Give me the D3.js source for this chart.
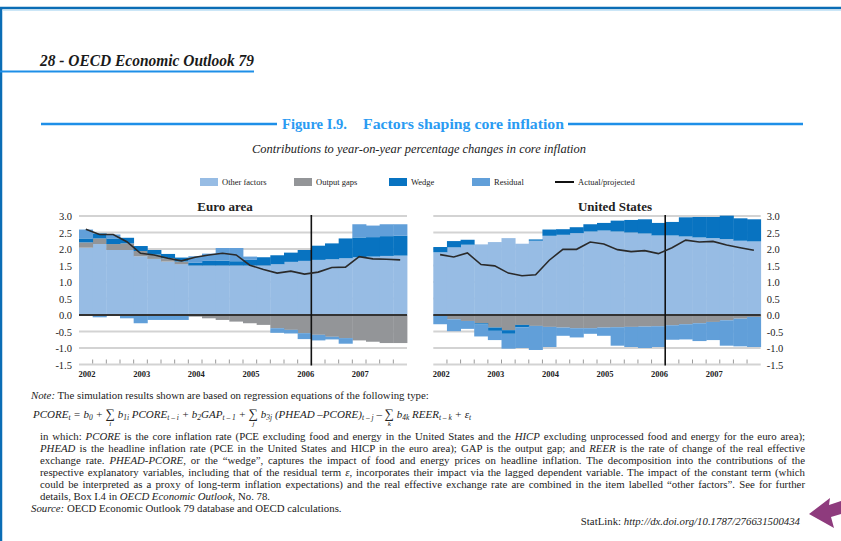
<!DOCTYPE html>
<html>
<head>
<meta charset="utf-8">
<script src="https://cdn.jsdelivr.net/npm/d3@7"></script>
<style>
  body { margin: 0; background: #fff; }
  svg { display: block; }
  text { font-family: "Liberation Serif", "Times New Roman", serif; }
</style>
</head>
<body>
<div id="chart"></div>
<script>
const W = 841, H = 541;

// categories
const quarters = [
  "2002Q1","2002Q2","2002Q3","2002Q4","2003Q1","2003Q2","2003Q3","2003Q4",
  "2004Q1","2004Q2","2004Q3","2004Q4","2005Q1","2005Q2","2005Q3","2005Q4",
  "2006Q1","2006Q2","2006Q3","2006Q4","2007Q1","2007Q2","2007Q3","2007Q4"
];
const yearLabels = ["2002","2003","2004","2005","2006","2007"];
const yTicks = [-1.5, -1.0, -0.5, 0.0, 0.5, 1.0, 1.5, 2.0, 2.5, 3.0];
const projectionStart = "2006Q2";

const seriesKeys = ["other", "gap", "wedge", "residual"];
const seriesNames = ["Other factors", "Output gaps", "Wedge", "Residual"];
const lineName = "Actual/projected";

// euro area contributions (% points)
const euroOther    = [2.04, 2.15, 1.97, 1.97, 1.78, 1.70, 1.62, 1.54, 1.50, 1.50, 1.50, 1.50, 1.50, 1.50, 1.54, 1.61, 1.64, 1.67, 1.69, 1.72, 1.75, 1.77, 1.79, 1.80];
const euroGap      = [0.16, 0.17, 0.18, 0.20, 0.16, 0.13, 0.10, 0.08, -0.05, -0.10, -0.15, -0.20, -0.25, -0.30, -0.40, -0.45, -0.55, -0.60, -0.66, -0.70, -0.77, -0.81, -0.85, -0.85];
const euroWedge    = [0.12, 0.15, 0.17, 0.17, 0.15, 0.14, 0.13, 0.12, 0.08, 0.14, 0.15, 0.13, 0.17, 0.25, 0.27, 0.28, 0.33, 0.43, 0.48, 0.60, 0.60, 0.59, 0.60, 0.60];
const euroResidual = [0.27, -0.07, 0.12, -0.10, -0.25, -0.15, -0.15, -0.15, 0.20, 0.22, 0.38, 0.40, 0.10, 0.00, -0.14, -0.11, -0.18, -0.17, -0.08, -0.17, 0.40, 0.35, 0.36, 0.35];
const euroActual   = [2.60, 2.44, 2.44, 2.22, 1.87, 1.82, 1.72, 1.64, 1.75, 1.82, 1.87, 1.82, 1.51, 1.38, 1.27, 1.33, 1.24, 1.30, 1.44, 1.45, 1.77, 1.70, 1.69, 1.67];

// united states contributions (% points)
const usOther    = [1.90, 2.05, 2.13, 2.14, 2.21, 2.33, 2.16, 2.25, 2.40, 2.43, 2.48, 2.53, 2.56, 2.53, 2.50, 2.47, 2.41, 2.41, 2.38, 2.35, 2.33, 2.30, 2.25, 2.23];
const usGap      = [-0.03, -0.13, -0.18, -0.25, -0.38, -0.46, -0.30, -0.33, -0.36, -0.38, -0.40, -0.40, -0.38, -0.37, -0.36, -0.35, -0.34, -0.31, -0.28, -0.25, -0.21, -0.16, -0.11, -0.06];
const usWedge    = [0.16, 0.19, 0.15, -0.04, -0.10, -0.11, -0.07, 0.04, 0.19, 0.17, 0.18, 0.22, 0.23, 0.33, 0.38, 0.43, 0.38, 0.41, 0.58, 0.62, 0.64, 0.71, 0.68, 0.67];
const usResidual = [-0.25, -0.36, -0.24, -0.36, -0.28, -0.45, -0.63, -0.73, -0.61, -0.25, -0.28, -0.17, -0.25, -0.56, -0.61, -0.65, -0.63, -0.44, -0.46, -0.54, -0.55, -0.77, -0.84, -0.91];
const usActual   = [1.83, 1.76, 1.88, 1.53, 1.49, 1.27, 1.19, 1.22, 1.66, 1.99, 1.99, 2.21, 2.15, 1.98, 1.92, 1.95, 1.86, 2.04, 2.27, 2.21, 2.23, 2.12, 2.04, 1.96];

const colors = { other: "#97bce4", gap: "#939598", wedge: "#0873c1", residual: "#619fd9" };
const BLUE = "#1e8fe8";

const svg = d3.select("#chart").append("svg")
  .attr("width", W).attr("height", H)
  .attr("viewBox", `0 0 ${W} ${H}`);

svg.append("rect").attr("width", W).attr("height", H).attr("fill", "#fff");

// page frame
svg.append("line").attr("x1", 0).attr("x2", W).attr("y1", 8).attr("y2", 8)
  .attr("stroke", "#0b6db5").attr("stroke-width", 2.5);
svg.append("line").attr("x1", 3).attr("x2", W).attr("y1", 10.3).attr("y2", 10.3)
  .attr("stroke", "#bfe0f6").attr("stroke-width", 1);
svg.append("line").attr("x1", 1).attr("x2", 1).attr("y1", 7).attr("y2", H)
  .attr("stroke", "#0b6db5").attr("stroke-width", 2.5);

// header
svg.append("text").attr("x", 40).attr("y", 66)
  .attr("font-size", 16).attr("font-style", "italic").attr("font-weight", "bold")
  .attr("fill", "#1a1a1a").attr("textLength", 214).attr("lengthAdjust", "spacingAndGlyphs")
  .text("28 - OECD Economic Outlook 79");
svg.append("line").attr("x1", 0).attr("x2", 254).attr("y1", 71.5).attr("y2", 71.5)
  .attr("stroke", BLUE).attr("stroke-width", 2);

// figure title
svg.append("line").attr("x1", 41).attr("x2", 277).attr("y1", 124).attr("y2", 124)
  .attr("stroke", BLUE).attr("stroke-width", 2.5);
svg.append("line").attr("x1", 568).attr("x2", 803).attr("y1", 124).attr("y2", 124)
  .attr("stroke", BLUE).attr("stroke-width", 2.5);
svg.append("text").attr("x", 282).attr("y", 129)
  .attr("font-size", 15).attr("font-weight", "bold").attr("fill", "#2a9bf2")
  .attr("textLength", 65).attr("lengthAdjust", "spacingAndGlyphs")
  .text("Figure I.9.");
svg.append("text").attr("x", 363).attr("y", 129)
  .attr("font-size", 15).attr("font-weight", "bold").attr("fill", "#2a9bf2")
  .attr("textLength", 201).attr("lengthAdjust", "spacingAndGlyphs")
  .text("Factors shaping core inflation");
svg.append("text").attr("x", 252).attr("y", 153)
  .attr("font-size", 11.5).attr("font-style", "italic").attr("fill", "#222")
  .attr("textLength", 334).attr("lengthAdjust", "spacingAndGlyphs")
  .text("Contributions to year-on-year percentage changes in core inflation");

// legend
const legendX = [200, 294, 389, 472];
const legend = svg.append("g");
seriesKeys.forEach((k, i) => {
  legend.append("rect").attr("x", legendX[i]).attr("y", 178).attr("width", 18).attr("height", 8)
    .attr("fill", colors[k]);
  legend.append("text").attr("x", legendX[i] + 22).attr("y", 185)
    .attr("font-size", 8.5).attr("fill", "#222").text(seriesNames[i]);
});
legend.append("line").attr("x1", 555).attr("x2", 574).attr("y1", 182).attr("y2", 182)
  .attr("stroke", "#111").attr("stroke-width", 2);
legend.append("text").attr("x", 578).attr("y", 185)
  .attr("font-size", 8.5).attr("fill", "#222").text(lineName);

const panels = [
  { title: "Euro area", titleX: 225, x0: 79, x1: 407, side: "left",
    other: euroOther, gap: euroGap, wedge: euroWedge, residual: euroResidual, actual: euroActual },
  { title: "United States", titleX: 615, x0: 433.3, x1: 760.7, side: "right",
    other: usOther, gap: usGap, wedge: usWedge, residual: usResidual, actual: usActual }
];

function drawPanel(p) {
  const x = d3.scaleBand().domain(quarters).range([p.x0, p.x1]).padding(0);
  const y = d3.scaleLinear().domain([-1.5, 3]).range([364.5, 216]);
  const g = svg.append("g");

  // gridlines
  g.selectAll(".grid").data(yTicks.filter(d => d !== 0)).join("line")
    .attr("x1", p.x0).attr("x2", p.x1)
    .attr("y1", d => y(d)).attr("y2", d => y(d))
    .attr("stroke", "#d3d3d3").attr("stroke-width", 2);

  // stacked bars
  const rows = quarters.map((q, i) => ({
    q, other: p.other[i], gap: p.gap[i], wedge: p.wedge[i], residual: p.residual[i]
  }));
  const stacked = d3.stack().keys(seriesKeys).offset(d3.stackOffsetDiverging)(rows);
  g.selectAll(".layer").data(stacked).join("g")
    .attr("fill", d => colors[d.key])
    .selectAll("rect").data(d => d).join("rect")
    .attr("x", d => x(d.data.q))
    .attr("width", x.bandwidth() + 0.4)
    .attr("y", d => y(Math.max(d[0], d[1])))
    .attr("height", d => Math.abs(y(d[0]) - y(d[1])));

  // zero line
  g.append("line").attr("x1", p.x0).attr("x2", p.x1)
    .attr("y1", y(0)).attr("y2", y(0))
    .attr("stroke", "#333").attr("stroke-width", 2);

  // quarter ticks
  g.selectAll(".qtick").data(quarters.slice(1)).join("line")
    .attr("x1", d => x(d)).attr("x2", d => x(d))
    .attr("y1", y(-1.5) - 5).attr("y2", y(-1.5) - 1)
    .attr("stroke", "#9a9a9a").attr("stroke-width", 1);

  // year labels
  g.selectAll(".year").data(yearLabels).join("text")
    .attr("x", d => x(d + "Q1") + 8).attr("y", 377)
    .attr("text-anchor", "middle").attr("font-size", 8.5).attr("font-weight", "bold")
    .attr("fill", "#222").text(d => d);

  // y axis
  const axis = (p.side === "left" ? d3.axisLeft(y) : d3.axisRight(y))
    .tickValues(yTicks).tickSize(0).tickPadding(p.side === "left" ? 7 : 6)
    .tickFormat(d => d.toFixed(1));
  const ax = g.append("g")
    .attr("transform", `translate(${p.side === "left" ? p.x0 : p.x1},0)`)
    .call(axis);
  ax.select(".domain").remove();
  ax.selectAll("text")
    .attr("font-family", '"Liberation Serif", serif').attr("font-size", 10.5)
    .attr("fill", "#222").attr("dy", "0.34em");

  // projection divider
  const px = x(projectionStart);
  g.append("line").attr("x1", px).attr("x2", px)
    .attr("y1", y(3) - 1).attr("y2", y(-1.5) + 1)
    .attr("stroke", "#111").attr("stroke-width", 1.6);

  // actual / projected line
  const line = d3.line()
    .x((d, i) => x(quarters[i]) + x.bandwidth() / 2)
    .y(d => y(d));
  g.append("path").datum(p.actual)
    .attr("d", line).attr("fill", "none")
    .attr("stroke", "#2a2a2a").attr("stroke-width", 1.6);

  // panel title
  g.append("text").attr("x", p.titleX).attr("y", 211)
    .attr("text-anchor", "middle").attr("font-size", 13).attr("font-weight", "bold")
    .attr("fill", "#222").text(p.title);
}
panels.forEach(drawPanel);

// notes
const notes = svg.append("g").attr("font-size", 10.8).attr("fill", "#222");

function richLine(str, x, y, justifyTo) {
  const t = notes.append("text").attr("x", x).attr("y", y);
  str.split("*").forEach((s, i) => {
    if (s) t.append("tspan").attr("font-style", i % 2 ? "italic" : null).text(s);
  });
  if (justifyTo) {
    const natural = t.node().getComputedTextLength();
    const spaces = (str.match(/ /g) || []).length;
    t.attr("word-spacing", ((justifyTo - x) - natural) / spaces);
  }
  return t;
}

richLine("*Note:* The simulation results shown are based on regression equations of the following type:", 31, 399);

// regression formula
const formulaPieces = [
  ["PCORE", ""], ["t", "sub"], [" = b", ""], ["0", "sub"], [" + ", ""], ["\u2211", "sig", "i"],
  [" b", ""], ["1i", "sub"], [" PCORE", ""], ["t \u2013 i", "sub"], [" + b", ""], ["2", "sub"],
  ["GAP", ""], ["t \u2013 1", "sub"], [" + ", ""], ["\u2211", "sig", "j"], [" b", ""], ["3j", "sub"],
  [" (PHEAD \u2013PCORE)", ""], ["t \u2013 j", "sub"], [" \u2013 ", ""], ["\u2211", "sig", "k"],
  [" b", ""], ["4k", "sub"], [" REER", ""], ["t \u2013 k", "sub"], [" + \u03b5", ""], ["t", "sub"]
];
let fx = 33;
const fy = 417.5;
formulaPieces.forEach(([s, kind, under]) => {
  const size = kind === "sub" ? 7.5 : kind === "sig" ? 13 : 11;
  const t = notes.append("text").attr("x", fx).attr("y", kind === "sub" ? fy + 2.5 : fy)
    .attr("font-size", size).attr("font-style", "italic")
    .attr("xml:space", "preserve").style("white-space", "pre").text(s);
  const w = t.node().getComputedTextLength();
  if (kind === "sig") {
    notes.append("text").attr("x", fx + w / 2).attr("y", fy + 8)
      .attr("font-size", 7).attr("font-style", "italic").attr("text-anchor", "middle").text(under);
  }
  fx += w;
});

const paraLines = [
  "in which: *PCORE* is the core inflation rate (PCE excluding food and energy in the United States and the *HICP* excluding unprocessed food and energy for the euro area);",
  "*PHEAD* is the headline inflation rate (PCE in the United States and HICP in the euro area); GAP is the output gap; and *REER* is the rate of change of the real effective",
  "exchange rate. *PHEAD-PCORE*, or the \u201cwedge\u201d, captures the impact of food and energy prices on headline inflation. The decomposition into the contributions of the",
  "respective explanatory variables, including that of the residual term *\u03b5*, incorporates their impact via the lagged dependent variable. The impact of the constant term (which",
  "could be interpreted as a proxy of long-term inflation expectations) and the real effective exchange rate are combined in the item labelled \u201cother factors\u201d. See for further",
  "details, Box I.4 in *OECD Economic Outlook*, No. 78."
];
paraLines.forEach((s, i) => {
  richLine(s, 40, 440 + i * 12, i < paraLines.length - 1 ? 805 : null);
});
richLine("*Source:* OECD Economic Outlook 79 database and OECD calculations.", 31, 512);

const stat = richLine("StatLink: *http://dx.doi.org/10.1787/276631500434*", 0, 524.5);
stat.attr("x", 800).attr("text-anchor", "end");

// pointer arrow
svg.append("path")
  .attr("d", "M809,514 L830,498 L829,505 L841,501 L841,514 L831,517 L834,528 Z")
  .attr("fill", "#8e3b7d");
</script>
</body>
</html>
